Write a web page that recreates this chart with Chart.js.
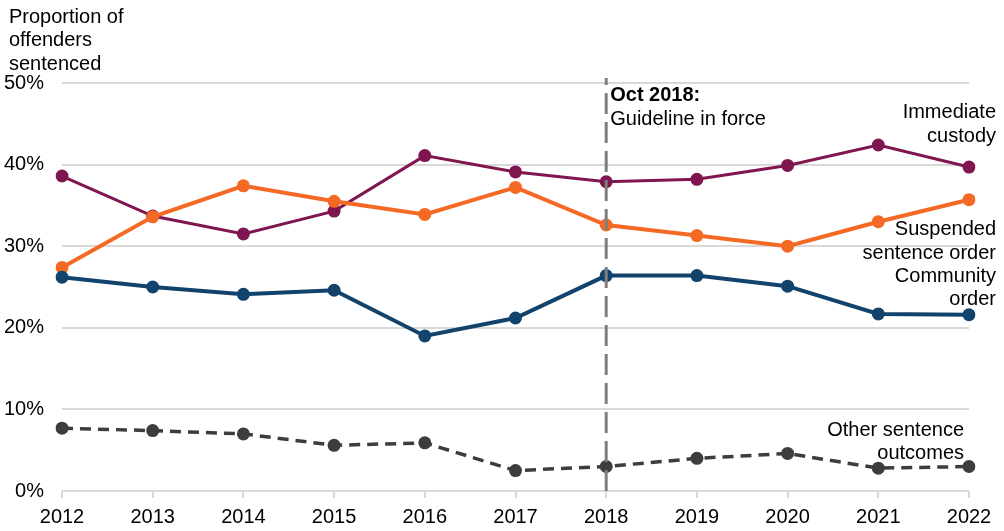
<!DOCTYPE html>
<html>
<head>
<meta charset="utf-8">
<script src="https://cdn.jsdelivr.net/npm/chart.js@4"></script>
<style>
html,body{margin:0;padding:0;background:#fff;}
#wrap{position:relative;width:1004px;height:531px;}
</style>
</head>
<body>
<div id="wrap"><canvas id="c" width="1004" height="531"></canvas></div>
<script>
const years = ['2012','2013','2014','2015','2016','2017','2018','2019','2020','2021','2022'];
const immediateCustody = [38.6, 33.7, 31.5, 34.3, 41.1, 39.1, 37.9, 38.2, 39.9, 42.4, 39.7];
const suspendedSentence = [27.4, 33.6, 37.4, 35.5, 33.9, 37.2, 32.6, 31.3, 30.0, 33.0, 35.7];
const communityOrder = [26.2, 25.0, 24.1, 24.6, 19.0, 21.2, 26.4, 26.4, 25.1, 21.7, 21.6];
const otherOutcomes = [7.7, 7.4, 7.0, 5.6, 5.9, 2.5, 3.0, 4.0, 4.6, 2.8, 3.0];
const yTicks = [0, 10, 20, 30, 40, 50];
const axisTitle = ['Proportion of', 'offenders', 'sentenced'];
const guidelineYear = '2018';
const guidelineText = ['Oct 2018:', 'Guideline in force'];

const FONT = '"Liberation Sans", Arial, sans-serif';

const overlay = {
  id: 'overlay',
  afterDatasetsDraw(chart) {
    const ctx = chart.ctx;
    const x = chart.scales.x;
    const y = chart.scales.y;
    const gx = x.getPixelForValue(years.indexOf(guidelineYear));
    ctx.save();
    ctx.strokeStyle = '#7f7f7f';
    ctx.lineWidth = 3;
    ctx.setLineDash([21, 8]);
    ctx.beginPath();
    ctx.moveTo(gx, y.bottom);
    ctx.lineTo(gx, y.top - 5);
    ctx.stroke();
    ctx.setLineDash([]);

    ctx.fillStyle = '#000';
    ctx.textBaseline = 'middle';
    ctx.textAlign = 'left';
    ctx.font = 'bold 20px ' + FONT;
    ctx.fillText(guidelineText[0], gx + 4, 95);
    ctx.font = '20px ' + FONT;
    ctx.fillText(guidelineText[1], gx + 4, 119);

    // axis title
    ctx.textAlign = 'left';
    axisTitle.forEach((t, i) => ctx.fillText(t, 9, 17 + i * 23.5));

    // series labels
    ctx.textAlign = 'right';
    const labels = [
      ['Immediate', 996, 112], ['custody', 996, 136],
      ['Suspended', 996, 229], ['sentence order', 996, 253],
      ['Community', 996, 276], ['order', 996, 299],
      ['Other sentence', 964, 430], ['outcomes', 964, 453]
    ];
    labels.forEach(l => ctx.fillText(l[0], l[1], l[2]));
    ctx.restore();
  }
};

function ds(data, color, width, dash) {
  return {
    data: data,
    borderColor: color,
    backgroundColor: color,
    pointBackgroundColor: color,
    pointBorderColor: color,
    borderWidth: width,
    borderDash: dash || [],
    pointRadius: 6.5,
    pointHoverRadius: 6.5,
    pointBorderWidth: 0,
    tension: 0,
    fill: false
  };
}

new Chart(document.getElementById('c'), {
  type: 'line',
  data: {
    labels: years,
    datasets: [
      ds(otherOutcomes, '#3D3D3D', 3.5, [11, 7]),
      ds(communityOrder, '#12436D', 4),
      ds(suspendedSentence, '#F46A25', 4),
      ds(immediateCustody, '#801650', 3)
    ]
  },
  options: {
    responsive: false,
    animation: false,
    devicePixelRatio: 1,
    layout: { padding: { top: 83, right: 35, bottom: 0, left: 0 } },
    plugins: { legend: { display: false }, tooltip: { enabled: false } },
    scales: {
      x: {
        offset: false,
        grid: { drawOnChartArea: false, drawTicks: true, tickLength: 7, color: '#d9d9d9', lineWidth: 2 },
        border: { display: false },
        ticks: { color: '#000', font: { family: FONT, size: 20 }, padding: 7, maxRotation: 0, autoSkip: false },
        afterFit(s) { s.height = 40; }
      },
      y: {
        min: 0, max: 50,
        afterBuildTicks(s) { s.ticks = yTicks.map(v => ({ value: v })); },
        grid: { color: '#d9d9d9', lineWidth: 2, drawTicks: false },
        border: { display: false },
        ticks: { color: '#000', font: { family: FONT, size: 20 }, padding: 18, callback: v => v + '%' },
        afterFit(s) { s.width = 62; }
      }
    }
  },
  plugins: [overlay]
});
</script>
</body>
</html>
